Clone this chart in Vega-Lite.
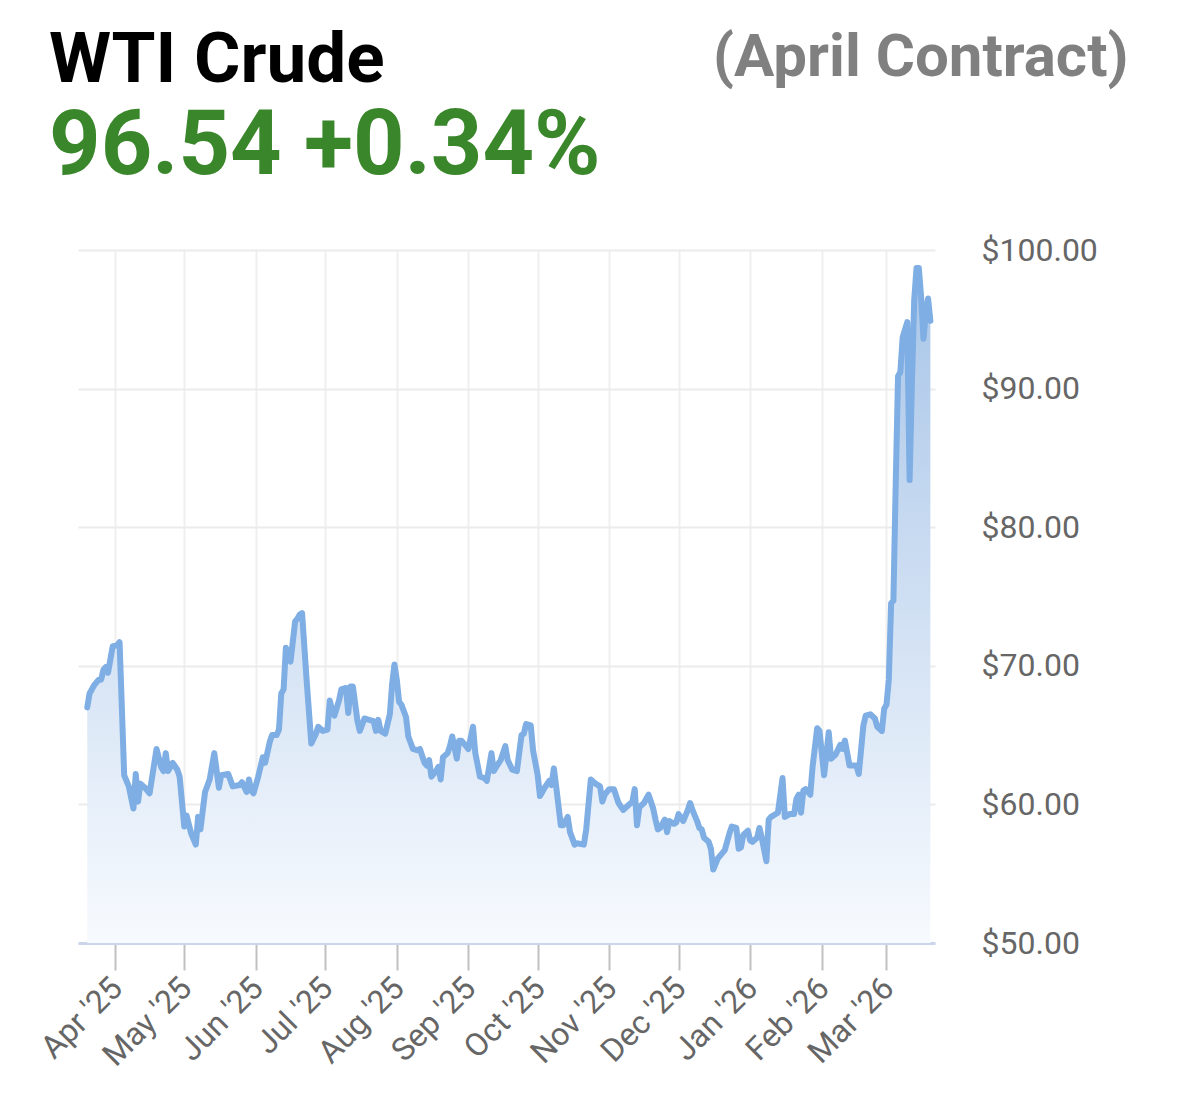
{
  "$schema": "https://vega.github.io/schema/vega-lite/v6.json",
  "width": 857,
  "height": 693,
  "autosize": {"type": "none"},
  "padding": {"left": 78, "top": 250, "right": 244, "bottom": 160},
  "background": "white",
  "title": {
    "text": "WTI Crude",
    "subtitle": "96.54 +0.34%",
    "anchor": "start",
    "frame": "group",
    "dx": -29,
    "offset": -166,
    "font": "Roboto",
    "fontSize": 71,
    "fontWeight": "bold",
    "color": "#000000",
    "subtitleFont": "Roboto",
    "subtitleFontSize": 90,
    "subtitleFontWeight": "bold",
    "subtitleColor": "#3a872b",
    "subtitlePadding": 6
  },
  "data": {
    "values": [
      {"date": "2025-03-20", "price": 67.0},
      {"date": "2025-03-21", "price": 68.0},
      {"date": "2025-03-23", "price": 68.6},
      {"date": "2025-03-25", "price": 69.0},
      {"date": "2025-03-26", "price": 69.0},
      {"date": "2025-03-27", "price": 69.7},
      {"date": "2025-03-28", "price": 69.9},
      {"date": "2025-03-29", "price": 69.5},
      {"date": "2025-03-31", "price": 71.4},
      {"date": "2025-04-02", "price": 71.5},
      {"date": "2025-04-03", "price": 71.7},
      {"date": "2025-04-05", "price": 62.1},
      {"date": "2025-04-07", "price": 61.3},
      {"date": "2025-04-09", "price": 59.7},
      {"date": "2025-04-10", "price": 62.2},
      {"date": "2025-04-11", "price": 60.2},
      {"date": "2025-04-12", "price": 61.5},
      {"date": "2025-04-14", "price": 61.2},
      {"date": "2025-04-16", "price": 60.8},
      {"date": "2025-04-19", "price": 64.0},
      {"date": "2025-04-21", "price": 62.7},
      {"date": "2025-04-22", "price": 62.4},
      {"date": "2025-04-23", "price": 63.7},
      {"date": "2025-04-24", "price": 62.4},
      {"date": "2025-04-26", "price": 63.0},
      {"date": "2025-04-28", "price": 62.5},
      {"date": "2025-04-29", "price": 62.0},
      {"date": "2025-05-01", "price": 58.4},
      {"date": "2025-05-02", "price": 59.2},
      {"date": "2025-05-04", "price": 57.9},
      {"date": "2025-05-06", "price": 57.1},
      {"date": "2025-05-07", "price": 59.1},
      {"date": "2025-05-08", "price": 58.2},
      {"date": "2025-05-10", "price": 60.9},
      {"date": "2025-05-12", "price": 61.8},
      {"date": "2025-05-14", "price": 63.7},
      {"date": "2025-05-16", "price": 61.2},
      {"date": "2025-05-17", "price": 62.1},
      {"date": "2025-05-20", "price": 62.2},
      {"date": "2025-05-22", "price": 61.3},
      {"date": "2025-05-25", "price": 61.4},
      {"date": "2025-05-26", "price": 61.6},
      {"date": "2025-05-28", "price": 60.9},
      {"date": "2025-05-29", "price": 61.8},
      {"date": "2025-05-30", "price": 61.0},
      {"date": "2025-05-31", "price": 60.8},
      {"date": "2025-06-02", "price": 62.0},
      {"date": "2025-06-04", "price": 63.4},
      {"date": "2025-06-05", "price": 63.0},
      {"date": "2025-06-07", "price": 64.5},
      {"date": "2025-06-08", "price": 65.0},
      {"date": "2025-06-10", "price": 65.0},
      {"date": "2025-06-11", "price": 65.4},
      {"date": "2025-06-12", "price": 68.0},
      {"date": "2025-06-13", "price": 68.3},
      {"date": "2025-06-14", "price": 71.3},
      {"date": "2025-06-15", "price": 70.8},
      {"date": "2025-06-16", "price": 70.3},
      {"date": "2025-06-18", "price": 73.2},
      {"date": "2025-06-19", "price": 73.4},
      {"date": "2025-06-20", "price": 73.7},
      {"date": "2025-06-21", "price": 73.8},
      {"date": "2025-06-23", "price": 68.9},
      {"date": "2025-06-25", "price": 64.4},
      {"date": "2025-06-27", "price": 65.1},
      {"date": "2025-06-28", "price": 65.6},
      {"date": "2025-06-30", "price": 65.3},
      {"date": "2025-07-02", "price": 65.4},
      {"date": "2025-07-03", "price": 67.5},
      {"date": "2025-07-04", "price": 66.8},
      {"date": "2025-07-05", "price": 66.4},
      {"date": "2025-07-07", "price": 67.5},
      {"date": "2025-07-08", "price": 68.3},
      {"date": "2025-07-10", "price": 68.4},
      {"date": "2025-07-11", "price": 66.6},
      {"date": "2025-07-12", "price": 68.5},
      {"date": "2025-07-13", "price": 68.5},
      {"date": "2025-07-15", "price": 66.0},
      {"date": "2025-07-16", "price": 65.3},
      {"date": "2025-07-18", "price": 66.2},
      {"date": "2025-07-20", "price": 66.1},
      {"date": "2025-07-22", "price": 66.0},
      {"date": "2025-07-23", "price": 65.3},
      {"date": "2025-07-24", "price": 66.1},
      {"date": "2025-07-25", "price": 65.3},
      {"date": "2025-07-27", "price": 65.1},
      {"date": "2025-07-29", "price": 66.5},
      {"date": "2025-07-30", "price": 68.7},
      {"date": "2025-07-31", "price": 70.1},
      {"date": "2025-08-01", "price": 69.0},
      {"date": "2025-08-02", "price": 67.4},
      {"date": "2025-08-03", "price": 67.2},
      {"date": "2025-08-05", "price": 66.3},
      {"date": "2025-08-06", "price": 64.9},
      {"date": "2025-08-08", "price": 64.0},
      {"date": "2025-08-10", "price": 63.9},
      {"date": "2025-08-11", "price": 64.0},
      {"date": "2025-08-13", "price": 63.0},
      {"date": "2025-08-14", "price": 62.8},
      {"date": "2025-08-15", "price": 63.2},
      {"date": "2025-08-16", "price": 62.0},
      {"date": "2025-08-18", "price": 62.4},
      {"date": "2025-08-19", "price": 62.7},
      {"date": "2025-08-20", "price": 61.8},
      {"date": "2025-08-21", "price": 63.4},
      {"date": "2025-08-23", "price": 63.7},
      {"date": "2025-08-24", "price": 64.2},
      {"date": "2025-08-25", "price": 64.9},
      {"date": "2025-08-27", "price": 63.3},
      {"date": "2025-08-28", "price": 64.6},
      {"date": "2025-08-29", "price": 64.6},
      {"date": "2025-08-31", "price": 64.2},
      {"date": "2025-09-01", "price": 64.0},
      {"date": "2025-09-03", "price": 65.6},
      {"date": "2025-09-04", "price": 63.7},
      {"date": "2025-09-06", "price": 62.0},
      {"date": "2025-09-08", "price": 61.9},
      {"date": "2025-09-09", "price": 61.7},
      {"date": "2025-09-11", "price": 63.7},
      {"date": "2025-09-12", "price": 62.4},
      {"date": "2025-09-13", "price": 62.7},
      {"date": "2025-09-15", "price": 63.2},
      {"date": "2025-09-17", "price": 64.2},
      {"date": "2025-09-18", "price": 63.2},
      {"date": "2025-09-20", "price": 62.5},
      {"date": "2025-09-22", "price": 62.4},
      {"date": "2025-09-24", "price": 65.0},
      {"date": "2025-09-25", "price": 65.1},
      {"date": "2025-09-26", "price": 65.8},
      {"date": "2025-09-28", "price": 65.7},
      {"date": "2025-09-29", "price": 63.9},
      {"date": "2025-10-01", "price": 62.1},
      {"date": "2025-10-02", "price": 60.6},
      {"date": "2025-10-04", "price": 61.2},
      {"date": "2025-10-06", "price": 61.7},
      {"date": "2025-10-07", "price": 61.4},
      {"date": "2025-10-08", "price": 62.6},
      {"date": "2025-10-09", "price": 61.3},
      {"date": "2025-10-11", "price": 58.5},
      {"date": "2025-10-12", "price": 58.5},
      {"date": "2025-10-14", "price": 59.1},
      {"date": "2025-10-15", "price": 58.0},
      {"date": "2025-10-17", "price": 57.1},
      {"date": "2025-10-18", "price": 57.2},
      {"date": "2025-10-21", "price": 57.1},
      {"date": "2025-10-22", "price": 58.2},
      {"date": "2025-10-24", "price": 61.8},
      {"date": "2025-10-26", "price": 61.5},
      {"date": "2025-10-28", "price": 61.3},
      {"date": "2025-10-29", "price": 60.2},
      {"date": "2025-10-30", "price": 60.7},
      {"date": "2025-11-01", "price": 61.1},
      {"date": "2025-11-03", "price": 61.1},
      {"date": "2025-11-05", "price": 60.1},
      {"date": "2025-11-07", "price": 59.6},
      {"date": "2025-11-09", "price": 59.9},
      {"date": "2025-11-11", "price": 60.2},
      {"date": "2025-11-12", "price": 61.1},
      {"date": "2025-11-13", "price": 58.5},
      {"date": "2025-11-14", "price": 59.8},
      {"date": "2025-11-16", "price": 60.1},
      {"date": "2025-11-18", "price": 60.7},
      {"date": "2025-11-20", "price": 59.7},
      {"date": "2025-11-21", "price": 58.9},
      {"date": "2025-11-22", "price": 58.2},
      {"date": "2025-11-23", "price": 58.3},
      {"date": "2025-11-25", "price": 58.9},
      {"date": "2025-11-26", "price": 58.0},
      {"date": "2025-11-27", "price": 58.8},
      {"date": "2025-11-29", "price": 58.6},
      {"date": "2025-11-30", "price": 58.7},
      {"date": "2025-12-01", "price": 59.3},
      {"date": "2025-12-03", "price": 58.8},
      {"date": "2025-12-05", "price": 59.6},
      {"date": "2025-12-06", "price": 60.1},
      {"date": "2025-12-07", "price": 59.6},
      {"date": "2025-12-09", "price": 58.8},
      {"date": "2025-12-10", "price": 58.3},
      {"date": "2025-12-11", "price": 58.2},
      {"date": "2025-12-12", "price": 57.6},
      {"date": "2025-12-14", "price": 57.3},
      {"date": "2025-12-15", "price": 56.8},
      {"date": "2025-12-16", "price": 55.3},
      {"date": "2025-12-18", "price": 56.1},
      {"date": "2025-12-20", "price": 56.5},
      {"date": "2025-12-21", "price": 56.7},
      {"date": "2025-12-23", "price": 57.9},
      {"date": "2025-12-24", "price": 58.4},
      {"date": "2025-12-26", "price": 58.3},
      {"date": "2025-12-27", "price": 56.8},
      {"date": "2025-12-28", "price": 56.9},
      {"date": "2025-12-29", "price": 57.8},
      {"date": "2025-12-31", "price": 58.1},
      {"date": "2026-01-01", "price": 57.4},
      {"date": "2026-01-02", "price": 57.3},
      {"date": "2026-01-04", "price": 57.6},
      {"date": "2026-01-05", "price": 58.3},
      {"date": "2026-01-06", "price": 57.6},
      {"date": "2026-01-08", "price": 55.9},
      {"date": "2026-01-09", "price": 58.9},
      {"date": "2026-01-10", "price": 59.1},
      {"date": "2026-01-13", "price": 59.4},
      {"date": "2026-01-15", "price": 61.9},
      {"date": "2026-01-16", "price": 59.1},
      {"date": "2026-01-18", "price": 59.3},
      {"date": "2026-01-20", "price": 59.3},
      {"date": "2026-01-21", "price": 60.4},
      {"date": "2026-01-22", "price": 60.7},
      {"date": "2026-01-23", "price": 59.4},
      {"date": "2026-01-24", "price": 61.0},
      {"date": "2026-01-25", "price": 61.1},
      {"date": "2026-01-27", "price": 60.7},
      {"date": "2026-01-28", "price": 62.7},
      {"date": "2026-01-30", "price": 65.5},
      {"date": "2026-01-31", "price": 65.3},
      {"date": "2026-02-02", "price": 62.1},
      {"date": "2026-02-04", "price": 65.2},
      {"date": "2026-02-05", "price": 63.3},
      {"date": "2026-02-07", "price": 63.6},
      {"date": "2026-02-09", "price": 64.3},
      {"date": "2026-02-10", "price": 64.0},
      {"date": "2026-02-11", "price": 64.6},
      {"date": "2026-02-13", "price": 62.8},
      {"date": "2026-02-15", "price": 62.8},
      {"date": "2026-02-16", "price": 62.8},
      {"date": "2026-02-17", "price": 62.2},
      {"date": "2026-02-19", "price": 65.7},
      {"date": "2026-02-20", "price": 66.4},
      {"date": "2026-02-22", "price": 66.5},
      {"date": "2026-02-24", "price": 66.2},
      {"date": "2026-02-25", "price": 65.6},
      {"date": "2026-02-27", "price": 65.3},
      {"date": "2026-02-28", "price": 66.9},
      {"date": "2026-03-01", "price": 67.2},
      {"date": "2026-03-02", "price": 69.0},
      {"date": "2026-03-03", "price": 74.5},
      {"date": "2026-03-04", "price": 74.7},
      {"date": "2026-03-05", "price": 83.2},
      {"date": "2026-03-06", "price": 90.9},
      {"date": "2026-03-07", "price": 91.2},
      {"date": "2026-03-08", "price": 93.7},
      {"date": "2026-03-10", "price": 94.8},
      {"date": "2026-03-11", "price": 83.4},
      {"date": "2026-03-12", "price": 90.4},
      {"date": "2026-03-13", "price": 96.4},
      {"date": "2026-03-14", "price": 98.7},
      {"date": "2026-03-15", "price": 98.7},
      {"date": "2026-03-16", "price": 96.6},
      {"date": "2026-03-17", "price": 93.6},
      {"date": "2026-03-18", "price": 95.4},
      {"date": "2026-03-19", "price": 96.5},
      {"date": "2026-03-20", "price": 94.9}
    ]
  },
  "encoding": {
    "x": {
      "field": "date",
      "type": "temporal",
      "scale": {
        "type": "utc",
        "domain": [
          {"year": 2025, "month": 3, "date": 16, "utc": true},
          {"year": 2026, "month": 3, "date": 22, "utc": true}
        ]
      },
      "axis": {
        "title": null,
        "format": "%b '%y",
        "tickCount": {"interval": "month", "step": 1},
        "labelAngle": -45,
        "labelAlign": "right",
        "labelBaseline": "top",
        "labelFont": "Roboto",
        "labelFontSize": 32,
        "labelColor": "#666666",
        "labelPadding": 2,
        "labelOffset": -9,
        "labelOverlap": false,
        "labelFlush": false,
        "domainColor": "#ccd6eb",
        "domainWidth": 3,
        "tickColor": "#c0c0c0",
        "tickWidth": 2,
        "tickSize": 27,
        "grid": true,
        "gridColor": "#efefef",
        "gridWidth": 2
      }
    },
    "y": {
      "field": "price",
      "type": "quantitative",
      "scale": {"domain": [50, 100], "zero": false, "nice": false},
      "axis": {
        "orient": "right",
        "title": "(April Contract)",
        "titleAngle": 0,
        "titleAlign": "right",
        "titleBaseline": "top",
        "titleX": 193,
        "titleY": -222,
        "titleFont": "Roboto",
        "titleFontSize": 60,
        "titleFontWeight": "bold",
        "titleColor": "#808080",
        "values": [50, 60, 70, 80, 90, 100],
        "format": "$.2f",
        "labelFont": "Roboto",
        "labelFontSize": 32,
        "labelColor": "#666666",
        "labelPadding": 46,
        "ticks": false,
        "tickSize": 0,
        "domain": false,
        "grid": true,
        "gridColor": "#ebebeb",
        "gridWidth": 2
      }
    }
  },
  "layer": [
    {
      "mark": {
        "type": "area",
        "clip": true,
        "opacity": 1,
        "color": {
          "gradient": "linear",
          "x1": 0, "y1": 0, "x2": 0, "y2": 1,
          "stops": [
            {"offset": 0, "color": "#a8c5e8"},
            {"offset": 1, "color": "#f7fafe"}
          ]
        }
      },
      "encoding": {
        "y2": {"datum": 50}
      }
    },
    {
      "mark": {
        "type": "line",
        "clip": true,
        "color": "#7eaee3",
        "strokeWidth": 6,
        "strokeJoin": "round",
        "strokeCap": "round"
      }
    }
  ],
  "config": {
    "view": {"stroke": null},
    "font": "Roboto"
  }
}
